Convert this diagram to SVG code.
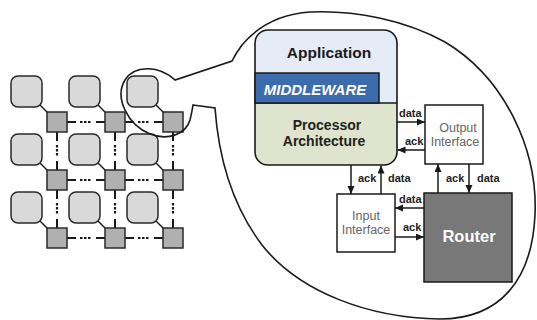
<svg xmlns="http://www.w3.org/2000/svg" width="537" height="320" viewBox="0 0 537 320">
<style>
.tile{fill:#d9d9d9;stroke:#2a2a2a;stroke-width:1.5}
.rt{fill:#b0b0b0;stroke:#2a2a2a;stroke-width:1.5}
.lk{stroke:#1a1a1a;stroke-width:2;fill:none}
.dl{stroke:#1a1a1a;stroke-width:2.2;fill:none;stroke-dasharray:2.5,1.5}
.box{fill:#fff;stroke:#1a1a1a;stroke-width:1.5}
.arr{stroke:#1a1a1a;stroke-width:1.5;fill:none;marker-end:url(#ah)}
.lbl{font-family:"Liberation Sans",Arial,sans-serif;font-weight:bold;font-size:11px;fill:#222}
.ifc{font-family:"Liberation Sans",Arial,sans-serif;font-size:12.5px;fill:#666;text-anchor:middle}
</style>
<defs>
<marker id="ah" markerUnits="userSpaceOnUse" markerWidth="9" markerHeight="8" refX="8" refY="3.5" orient="auto">
<path d="M0,0 L8,3.5 L0,7 z" fill="#1a1a1a"/>
</marker>
<clipPath id="pc"><rect x="255" y="30" width="142" height="135" rx="13"/></clipPath>
</defs>
<rect width="537" height="320" fill="#fff"/>

<g id="grid-links">
<g id="h-links">
<line class="lk" x1="67" y1="122" x2="76" y2="122"/><line class="dl" x1="80" y1="122" x2="92" y2="122"/><line class="lk" x1="96" y1="122" x2="105" y2="122"/>
<line class="lk" x1="125" y1="122" x2="134" y2="122"/><line class="dl" x1="138" y1="122" x2="150" y2="122"/><line class="lk" x1="154" y1="122" x2="163" y2="122"/>
<line class="lk" x1="67" y1="180" x2="76" y2="180"/><line class="dl" x1="80" y1="180" x2="92" y2="180"/><line class="lk" x1="96" y1="180" x2="105" y2="180"/>
<line class="lk" x1="125" y1="180" x2="134" y2="180"/><line class="dl" x1="138" y1="180" x2="150" y2="180"/><line class="lk" x1="154" y1="180" x2="163" y2="180"/>
<line class="lk" x1="67" y1="238" x2="76" y2="238"/><line class="dl" x1="80" y1="238" x2="92" y2="238"/><line class="lk" x1="96" y1="238" x2="105" y2="238"/>
<line class="lk" x1="125" y1="238" x2="134" y2="238"/><line class="dl" x1="138" y1="238" x2="150" y2="238"/><line class="lk" x1="154" y1="238" x2="163" y2="238"/>
</g>
<g id="v-links">
<line class="lk" x1="57" y1="132" x2="57" y2="141"/><line class="dl" x1="57" y1="145" x2="57" y2="157"/><line class="lk" x1="57" y1="161" x2="57" y2="170"/>
<line class="lk" x1="57" y1="190" x2="57" y2="199"/><line class="dl" x1="57" y1="203" x2="57" y2="215"/><line class="lk" x1="57" y1="219" x2="57" y2="228"/>
<line class="lk" x1="115" y1="132" x2="115" y2="141"/><line class="dl" x1="115" y1="145" x2="115" y2="157"/><line class="lk" x1="115" y1="161" x2="115" y2="170"/>
<line class="lk" x1="115" y1="190" x2="115" y2="199"/><line class="dl" x1="115" y1="203" x2="115" y2="215"/><line class="lk" x1="115" y1="219" x2="115" y2="228"/>
<line class="lk" x1="173" y1="132" x2="173" y2="141"/><line class="dl" x1="173" y1="145" x2="173" y2="157"/><line class="lk" x1="173" y1="161" x2="173" y2="170"/>
<line class="lk" x1="173" y1="190" x2="173" y2="199"/><line class="dl" x1="173" y1="203" x2="173" y2="215"/><line class="lk" x1="173" y1="219" x2="173" y2="228"/>
</g>
<g id="tile-links" stroke="#1a1a1a" stroke-width="1.5">
<line x1="40" y1="105" x2="48" y2="113"/><line x1="98" y1="105" x2="106" y2="113"/><line x1="156" y1="105" x2="164" y2="113"/>
<line x1="40" y1="163" x2="48" y2="171"/><line x1="98" y1="163" x2="106" y2="171"/><line x1="156" y1="163" x2="164" y2="171"/>
<line x1="40" y1="221" x2="48" y2="229"/><line x1="98" y1="221" x2="106" y2="229"/><line x1="156" y1="221" x2="164" y2="229"/>
</g>
</g>

<g id="tile-r1c1"><rect class="tile" x="11" y="76" width="31" height="31" rx="7"/></g>
<g id="tile-r1c2"><rect class="tile" x="69" y="76" width="31" height="31" rx="7"/></g>
<g id="tile-r1c3"><rect class="tile" x="127" y="76" width="31" height="31" rx="7"/></g>
<g id="tile-r2c1"><rect class="tile" x="11" y="134" width="31" height="31" rx="7"/></g>
<g id="tile-r2c2"><rect class="tile" x="69" y="134" width="31" height="31" rx="7"/></g>
<g id="tile-r2c3"><rect class="tile" x="127" y="134" width="31" height="31" rx="7"/></g>
<g id="tile-r3c1"><rect class="tile" x="11" y="192" width="31" height="31" rx="7"/></g>
<g id="tile-r3c2"><rect class="tile" x="69" y="192" width="31" height="31" rx="7"/></g>
<g id="tile-r3c3"><rect class="tile" x="127" y="192" width="31" height="31" rx="7"/></g>

<g id="router-r1c1"><rect class="rt" x="47" y="112" width="20" height="20"/></g>
<g id="router-r1c2"><rect class="rt" x="105" y="112" width="20" height="20"/></g>
<g id="router-r1c3"><rect class="rt" x="163" y="112" width="20" height="20"/></g>
<g id="router-r2c1"><rect class="rt" x="47" y="170" width="20" height="20"/></g>
<g id="router-r2c2"><rect class="rt" x="105" y="170" width="20" height="20"/></g>
<g id="router-r2c3"><rect class="rt" x="163" y="170" width="20" height="20"/></g>
<g id="router-r3c1"><rect class="rt" x="47" y="228" width="20" height="20"/></g>
<g id="router-r3c2"><rect class="rt" x="105" y="228" width="20" height="20"/></g>
<g id="router-r3c3"><rect class="rt" x="163" y="228" width="20" height="20"/></g>

<g id="bubble">
<path d="M193,105 L215,108 C218,150 228,200 262,245 C300,293 370,318 440,319 C500,319 532,280 535,215 C538,150 505,78 445,42 C405,20 355,10 310,12 C280,14 258,26 242,45 C236,53 232,61 232,61 L175,80 C160,66 135,64 125,80 C114,98 128,125 150,134 C168,141 186,134 190,120 C192,112 193,105 193,105 Z" fill="none" stroke="#1a1a1a" stroke-width="1.6"/>
</g>

<g id="processor">
<g clip-path="url(#pc)">
<rect x="255" y="30" width="142" height="73" fill="#e5ecf8"/>
<rect x="255" y="103" width="142" height="62" fill="#dee4cd"/>
<line x1="255" y1="103" x2="397" y2="103" stroke="#1a1a1a" stroke-width="1.5"/>
</g>
<rect x="255" y="30" width="142" height="135" rx="13" fill="none" stroke="#1a1a1a" stroke-width="1.6"/>
<text x="329" y="58" font-family="'Liberation Sans',Arial,sans-serif" font-weight="bold" font-size="15.5" fill="#1a1a1a" text-anchor="middle">Application</text>
<text x="327" y="130" font-family="'Liberation Sans',Arial,sans-serif" font-weight="bold" font-size="14" fill="#222" text-anchor="middle">Processor</text>
<text x="324" y="146" font-family="'Liberation Sans',Arial,sans-serif" font-weight="bold" font-size="14" fill="#222" text-anchor="middle">Architecture</text>
</g>
<g id="middleware">
<rect x="255" y="73" width="124" height="30" fill="#3d6cae" stroke="#1a1a1a" stroke-width="1.5"/>
<text x="315" y="95" font-family="'Liberation Sans',Arial,sans-serif" font-weight="bold" font-style="italic" font-size="15" fill="#fff" text-anchor="middle">MIDDLEWARE</text>
</g>

<g id="output-interface">
<rect class="box" x="425" y="105" width="58" height="59"/>
<text class="ifc" x="458" y="132">Output</text>
<text class="ifc" x="455" y="146">Interface</text>
</g>
<g id="input-interface">
<rect class="box" x="337" y="194" width="58" height="58"/>
<text class="ifc" x="366" y="220">Input</text>
<text class="ifc" x="366" y="234">Interface</text>
</g>
<g id="router">
<rect x="424" y="193" width="88" height="89" fill="#787878" stroke="#1a1a1a" stroke-width="1.5"/>
<text x="469" y="242" font-family="'Liberation Sans',Arial,sans-serif" font-weight="bold" font-size="16.5" fill="#fff" text-anchor="middle">Router</text>
</g>

<g id="connectors">
<line class="arr" x1="397" y1="122" x2="425" y2="122"/>
<line class="arr" x1="425" y1="150" x2="397.5" y2="150"/>
<line class="arr" x1="351" y1="165" x2="351" y2="194"/>
<line class="arr" x1="381" y1="194" x2="381" y2="165.5"/>
<line class="arr" x1="438" y1="193" x2="438" y2="164"/>
<line class="arr" x1="469" y1="164" x2="469" y2="193"/>
<line class="arr" x1="424" y1="208" x2="395" y2="208"/>
<line class="arr" x1="395" y1="237" x2="424" y2="237"/>
<text class="lbl" x="399" y="117">data</text>
<text class="lbl" x="405" y="145">ack</text>
<text class="lbl" x="358" y="182">ack</text>
<text class="lbl" x="388" y="182">data</text>
<text class="lbl" x="446" y="182">ack</text>
<text class="lbl" x="477" y="182">data</text>
<text class="lbl" x="399" y="203">data</text>
<text class="lbl" x="403" y="231">ack</text>
</g>
</svg>
